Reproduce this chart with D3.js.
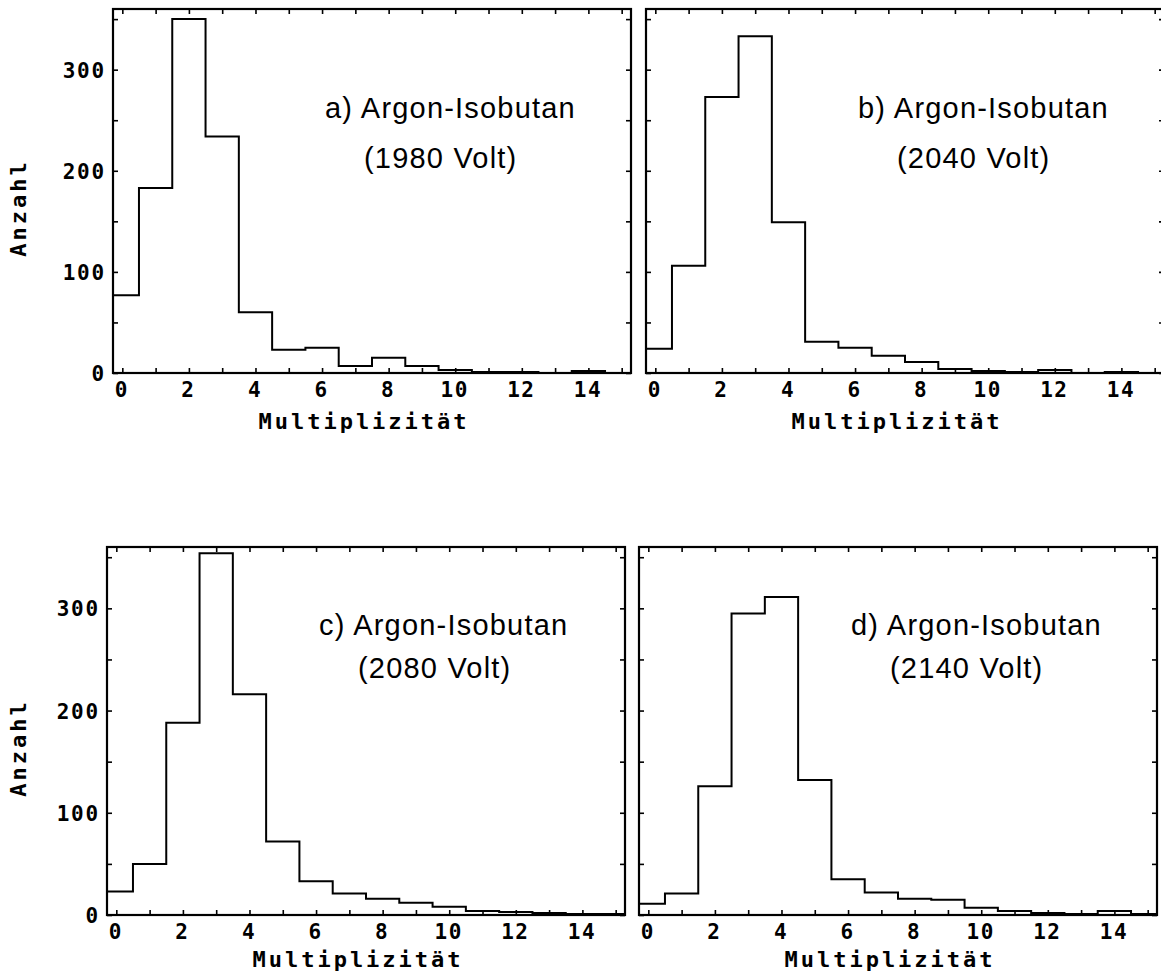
<!DOCTYPE html>
<html>
<head>
<meta charset="utf-8">
<script src="https://cdn.jsdelivr.net/npm/d3@7"></script>
<style>
  html, body { margin: 0; padding: 0; background: #fff; }
  svg { display: block; }
  .tick text { font-family: "DejaVu Sans Mono", monospace; font-weight: bold; }
</style>
</head>
<body>
<svg id="chart" width="1161" height="975"></svg>
<script>
// Multiplicity bins (0 .. 15) and the event counts per bin for each voltage
const multiplicity = [0, 1, 2, 3, 4, 5, 6, 7, 8, 9, 10, 11, 12, 13, 14, 15];
const counts1980 = [77, 183, 350, 234, 60, 23, 25, 7, 15, 7, 3, 1, 1, 0, 2, 0];
const counts2040 = [24, 106, 273, 333, 149, 31, 25, 17, 11, 4, 2, 1, 3, 0, 1, 0];
const counts2080 = [23, 50, 188, 354, 216, 72, 33, 21, 16, 12, 8, 4, 3, 2, 1, 1];
const counts2140 = [11, 21, 126, 295, 311, 132, 35, 22, 16, 15, 7, 4, 2, 1, 4, 1];

const panelTitles = ["a) Argon-Isobutan", "b) Argon-Isobutan", "c) Argon-Isobutan", "d) Argon-Isobutan"];
const panelVolts = ["(1980 Volt)", "(2040 Volt)", "(2080 Volt)", "(2140 Volt)"];
const xTickLabels = [0, 2, 4, 6, 8, 10, 12, 14];
const yTickLabels = [0, 100, 200, 300];
const xTitle = "Multiplizität";
const yTitle = "Anzahl";

const xDomain = [-0.28, 15.28];
const yDomain = [0, 360];
const plotWidth = 518;

// Frame geometry of the four panels
const layout = [
  { left: 113, top: 9,   bottom: 373, row: 0, showY: true,  counts: counts1980 },
  { left: 646, top: 9,   bottom: 373, row: 0, showY: false, counts: counts2040 },
  { left: 107, top: 547, bottom: 915, row: 1, showY: true,  counts: counts2080 },
  { left: 639, top: 547, bottom: 915, row: 1, showY: false, counts: counts2140 }
];

const svg = d3.select("#chart");
const monoFont = '"DejaVu Sans Mono", monospace';
const sansFont = '"Liberation Sans", Arial, Helvetica, sans-serif';

layout.forEach((p, i) => {
  const x = d3.scaleLinear().domain(xDomain).range([p.left, p.left + plotWidth]);
  const y = d3.scaleLinear().domain(yDomain).range([p.bottom, p.top]);
  const g = svg.append("g");

  // minor / major tick marks, pointing inward on all four sides
  const minorX = d3.range(0, 16);
  const minorY = d3.range(0, 360, 50);
  const tickStyle = sel => {
    sel.select(".domain").remove();
    sel.selectAll(".tick line").attr("stroke", "#000").attr("stroke-width", 1.6);
    sel.selectAll(".tick text").remove();
  };
  g.append("g").attr("transform", `translate(0,${p.bottom})`)
    .call(d3.axisBottom(x).tickValues(minorX).tickSize(-5)).call(tickStyle);
  g.append("g").attr("transform", `translate(0,${p.top})`)
    .call(d3.axisTop(x).tickValues(minorX).tickSize(-5)).call(tickStyle);
  g.append("g").attr("transform", `translate(${p.left},0)`)
    .call(d3.axisLeft(y).tickValues(minorY).tickSize(-5)).call(tickStyle);
  g.append("g").attr("transform", `translate(${p.left + plotWidth},0)`)
    .call(d3.axisRight(y).tickValues(minorY).tickSize(-5)).call(tickStyle);

  // x tick labels
  const xl = g.append("g").attr("transform", `translate(-1,${p.bottom})`)
    .call(d3.axisBottom(x).tickValues(xTickLabels).tickSize(0).tickPadding(24).tickFormat(d3.format("d")));
  xl.select(".domain").remove();
  xl.selectAll(".tick text")
    .attr("font-size", 21).attr("letter-spacing", 1.5).attr("fill", "#000")
    .attr("dy", 0).attr("text-anchor", "middle");

  // y tick labels on the left-hand panels
  if (p.showY) {
    const yl = g.append("g").attr("transform", `translate(${p.left - 7},0)`)
      .call(d3.axisLeft(y).tickValues(yTickLabels).tickSize(0).tickPadding(0).tickFormat(d3.format("d")));
    yl.select(".domain").remove();
    yl.selectAll(".tick text")
      .attr("font-size", 21).attr("letter-spacing", 1.8).attr("fill", "#000")
      .attr("dy", "0.36em");

    g.append("text")
      .attr("transform", `translate(26,${(p.top + p.bottom) / 2 + 17}) rotate(-90)`)
      .attr("text-anchor", "middle")
      .attr("font-family", monoFont).attr("font-weight", "bold")
      .attr("font-size", 22).attr("letter-spacing", 3)
      .text(yTitle);
  }

  // x axis title
  g.append("text")
    .attr("x", p.left + 251)
    .attr("y", p.row === 0 ? p.bottom + 56 : p.bottom + 52)
    .attr("text-anchor", "middle")
    .attr("font-family", monoFont).attr("font-weight", "bold")
    .attr("font-size", 22).attr("letter-spacing", 3)
    .text(xTitle);

  // histogram outline as a step line, clipped to the frame
  const pts = [];
  multiplicity.forEach((m, k) => {
    const x0 = Math.max(m - 0.5, xDomain[0]);
    const x1 = Math.min(m + 0.5, xDomain[1]);
    pts.push([x0, p.counts[k]], [x1, p.counts[k]]);
  });
  const line = d3.line().x(d => x(d[0])).y(d => y(d[1]));
  g.append("path")
    .attr("d", line(pts))
    .attr("fill", "none")
    .attr("stroke", "#000")
    .attr("stroke-width", 2)
    .attr("stroke-linejoin", "miter");

  // frame
  g.append("rect")
    .attr("x", p.left).attr("y", p.top)
    .attr("width", plotWidth).attr("height", p.bottom - p.top)
    .attr("fill", "none").attr("stroke", "#000").attr("stroke-width", 2.2);

  // panel annotation
  const l1y = p.row === 0 ? p.top + 109 : p.top + 88;
  const l2y = p.row === 0 ? p.top + 159 : p.top + 131;
  g.append("text")
    .attr("x", p.left + 212).attr("y", l1y)
    .attr("font-family", sansFont).attr("font-size", 29).attr("letter-spacing", 1.2)
    .text(panelTitles[i]);
  g.append("text")
    .attr("x", p.left + 251).attr("y", l2y)
    .attr("font-family", sansFont).attr("font-size", 29).attr("letter-spacing", 1.2)
    .text(panelVolts[i]);
});
</script>
</body>
</html>
